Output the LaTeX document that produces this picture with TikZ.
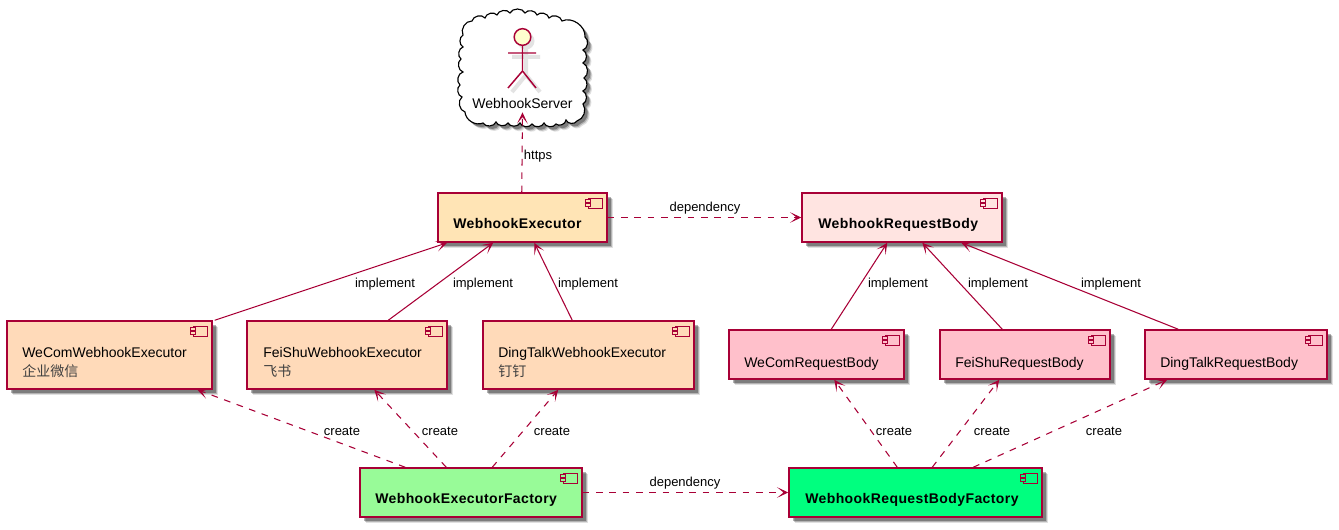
\documentclass[tikz,border=0pt]{standalone}
\usepackage{fontspec}
\setmainfont{Liberation Sans}
\newfontfamily\cjkfont{Noto Sans CJK SC}
\newfontfamily\boldspaced[LetterSpace=2.9]{Liberation Sans Bold}
\usetikzlibrary{calc,shadows,arrows.meta}
\definecolor{umlred}{HTML}{A80036}
\definecolor{actorfill}{HTML}{FEFECE}
\definecolor{cexec}{HTML}{FFE4B5}
\definecolor{crb}{HTML}{FFE4E1}
\definecolor{cpeach}{HTML}{FFDAB9}
\definecolor{cpink}{HTML}{FFC0CB}
\definecolor{cpale}{HTML}{98FB98}
\definecolor{cspring}{HTML}{00FF7F}
\tikzset{
  x=0.75pt,y=-0.75pt,
  compbox/.style={draw=umlred,line width=1.1pt,inner sep=0pt,
    drop shadow={shadow xshift=4.2pt,shadow yshift=-4.2pt,opacity=.12,fill=black},
    drop shadow={shadow xshift=3.6pt,shadow yshift=-3.6pt,opacity=.2,fill=black},
    drop shadow={shadow xshift=3pt,shadow yshift=-3pt,opacity=.3,fill=black}},
  comptext/.style={anchor=base west,inner sep=0pt,font=\fontsize{10.5}{12}\selectfont},
  boldtext/.style={anchor=base west,inner sep=0pt,font=\fontsize{10.5}{12}\selectfont\boldspaced},
  cjktext/.style={anchor=base west,inner sep=0pt,text=black!75,font=\fontsize{10.5}{12}\selectfont\cjkfont},
  lbl/.style={inner sep=0pt,font=\fontsize{9.75}{11}\selectfont},
  solidconn/.style={draw=umlred,line width=.8pt,arrows={-{Stealth[length=8.5pt,width=8pt,inset=5pt]}}},
  dashconn/.style={solidconn,dash pattern=on 5pt off 5pt},
  iconbox/.style={draw=umlred,line width=1.1pt},
  actorline/.style={draw=umlred,line width=1.1pt},
}
% name, x1, y1, x2, y2, fill
\newcommand\compbox[6]{%
  \pgfmathsetmacro\cw{(#4-#2)*0.75}\pgfmathsetmacro\ch{(#5-#3)*0.75}%
  \node[compbox,fill=#6,minimum width=\cw pt,minimum height=\ch pt] (#1) at ({(#2+#4)/2},{(#3+#5)/2}) {};
  \draw[iconbox,fill=#6] ($(#1.north east)+(-19,6)$) rectangle ($(#1.north east)+(-5,16)$);
  \draw[iconbox,fill=#6] ($(#1.north east)+(-22,7.5)$) rectangle ($(#1.north east)+(-17,10.5)$);
  \draw[iconbox,fill=#6] ($(#1.north east)+(-22,11.5)$) rectangle ($(#1.north east)+(-17,14.5)$);
}
\newcommand\cloudpath{%
  (472,21) to[bend left=65] (485,18) to[bend left=65] (497,15) to[bend left=65] (510,13)
  to[bend left=65] (525,13) to[bend left=65] (537,15) to[bend left=65] (549,18)
  to[bend left=65] (562,21) to[bend left=60] (585,37) to[bend left=65] (583,50)
  to[bend left=65] (583,63) to[bend left=65] (584,78) to[bend left=65] (583,91)
  to[bend left=65] (583,104) to[bend left=55] (577,121) to[bend left=65] (566,120)
  to[bend left=65] (556,124) to[bend left=65] (544,123) to[bend left=65] (532,124)
  to[bend left=65] (520,123) to[bend left=65] (508,123) to[bend left=65] (496,122)
  to[bend left=65] (483,123) to[bend left=55] (465,112) to[bend left=65] (462,97)
  to[bend left=65] (460,85) to[bend left=65] (463,72) to[bend left=65] (461,59)
  to[bend left=65] (463,47) to[bend left=60] (463,35) to[bend left=60] (472,21) -- cycle}
\begin{document}
\begin{tikzpicture}
\useasboundingbox (0,0) rectangle (1339,530);
% cloud
\foreach \sx/\op in {5/.12,4/.2,3/.3}{
  \begin{scope}[shift={(\sx,\sx)}]
  \fill[black,opacity=\op] \cloudpath;
  \end{scope}
}
\draw[black,fill=white,line width=.85pt] \cloudpath;
% actor
\begin{scope}[shift={(4,4)}]
\draw[black!11,line width=3pt] (508,53) -- (536,53) (522,44) -- (522,71) -- (508,88) (522,71) -- (536,88);
\fill[black!11] (522,37) circle[radius=8.5];
\end{scope}
\node[circle,draw=umlred,line width=1.1pt,fill=actorfill,minimum size=12.5pt,inner sep=0pt] (head) at (522.5,37) {};
\coordinate (hip) at (522.5,71);
\coordinate (armL) at (508,53); \coordinate (armR) at (536,53);
\coordinate (legL) at (508,88); \coordinate (legR) at (536,88);
\draw[actorline] (head.south) -- (hip) (armL) -- (armR) (legL) -- (hip) -- (legR);
\node[inner sep=0pt,font=\fontsize{10.5}{12}\selectfont] (servertext) at (522.5,104) {WebhookServer};
% boxes
\compbox{exec}{438}{193}{607}{242}{cexec}
\compbox{rb}{802}{193}{1002}{242}{crb}
\compbox{wecom}{7}{321}{212}{389}{cpeach}
\compbox{feishu}{247}{321}{447}{389}{cpeach}
\compbox{ding}{483}{321}{694}{389}{cpeach}
\compbox{wecomrb}{729}{330}{904}{379}{cpink}
\compbox{feishurb}{940}{330}{1110}{379}{cpink}
\compbox{dingrb}{1145}{330}{1327}{379}{cpink}
\compbox{execf}{360}{468}{582}{517}{cpale}
\compbox{rbf}{789}{468}{1042}{517}{cspring}
% box texts
\node[boldtext] (t1) at (453,229) {WebhookExecutor};
\node[boldtext] (t2) at (818,229) {WebhookRequestBody};
\node[comptext] (t3) at (22,357.7) {WeComWebhookExecutor};
\node[cjktext] (t3b) at (22,376.7) {企业微信};
\node[comptext] (t4) at (263,357.7) {FeiShuWebhookExecutor};
\node[cjktext] (t4b) at (263,376.7) {飞书};
\node[comptext] (t5) at (498,357.7) {DingTalkWebhookExecutor};
\node[cjktext] (t5b) at (498,376.7) {钉钉};
\node[comptext] (t6) at (744,367.7) {WeComRequestBody};
\node[comptext] (t7) at (955,367.7) {FeiShuRequestBody};
\node[comptext] (t8) at (1160,367.7) {DingTalkRequestBody};
\node[boldtext] (t9) at (375,504) {WebhookExecutorFactory};
\node[boldtext] (t10) at (805,504) {WebhookRequestBodyFactory};
% connectors
\draw[dashconn] ($(exec.north west)+(84.5,0)$) -- ($(servertext.south)+(0,3)$);
\draw[dashconn] (exec.east) -- (rb.west);
\draw[solidconn] ($(wecom.north east)+(2,0)$) -- ($(exec.south west)+(10,0)$);
\draw[solidconn] ($(feishu.north west)+(142,0)$) -- ($(exec.south west)+(56,0)$);
\draw[solidconn] ($(ding.north west)+(90,0)$) -- ($(exec.south west)+(97,0)$);
\draw[solidconn] ($(wecomrb.north west)+(103,0)$) -- ($(rb.south west)+(86,0)$);
\draw[solidconn] ($(feishurb.north west)+(63,0)$) -- ($(rb.south west)+(121,0)$);
\draw[solidconn] ($(dingrb.north west)+(34,0)$) -- ($(rb.south west)+(160,0)$);
\draw[dashconn] ($(execf.north west)+(46,0)$) -- ($(wecom.south west)+(191,0)$);
\draw[dashconn] ($(execf.north west)+(87,0)$) -- ($(feishu.south west)+(128,0)$);
\draw[dashconn] ($(execf.north west)+(133,0)$) -- ($(ding.south west)+(76,0)$);
\draw[dashconn] ($(rbf.north west)+(109,0)$) -- ($(wecomrb.south west)+(106,0)$);
\draw[dashconn] ($(rbf.north west)+(144,0)$) -- ($(feishurb.south west)+(60,0)$);
\draw[dashconn] ($(rbf.north west)+(185,0)$) -- ($(dingrb.south west)+(23,0)$);
\draw[dashconn] (execf.east) -- (rbf.west);
% labels
\node[lbl] (l1) at (538,156.5) {https};
\node[lbl] (l2) at (705,208.5) {dependency};
\node[lbl] (l3) at (385,284.5) {implement};
\node[lbl] (l4) at (483,284.5) {implement};
\node[lbl] (l5) at (588,284.5) {implement};
\node[lbl] (l6) at (898,284.5) {implement};
\node[lbl] (l7) at (998,284.5) {implement};
\node[lbl] (l8) at (1111,284.5) {implement};
\node[lbl] (l9) at (342,431.5) {create};
\node[lbl] (l10) at (440,431.5) {create};
\node[lbl] (l11) at (552,431.5) {create};
\node[lbl] (l12) at (894,431.5) {create};
\node[lbl] (l13) at (992,431.5) {create};
\node[lbl] (l14) at (1104,431.5) {create};
\node[lbl] (l15) at (685,483.5) {dependency};
\end{tikzpicture}
\end{document}
